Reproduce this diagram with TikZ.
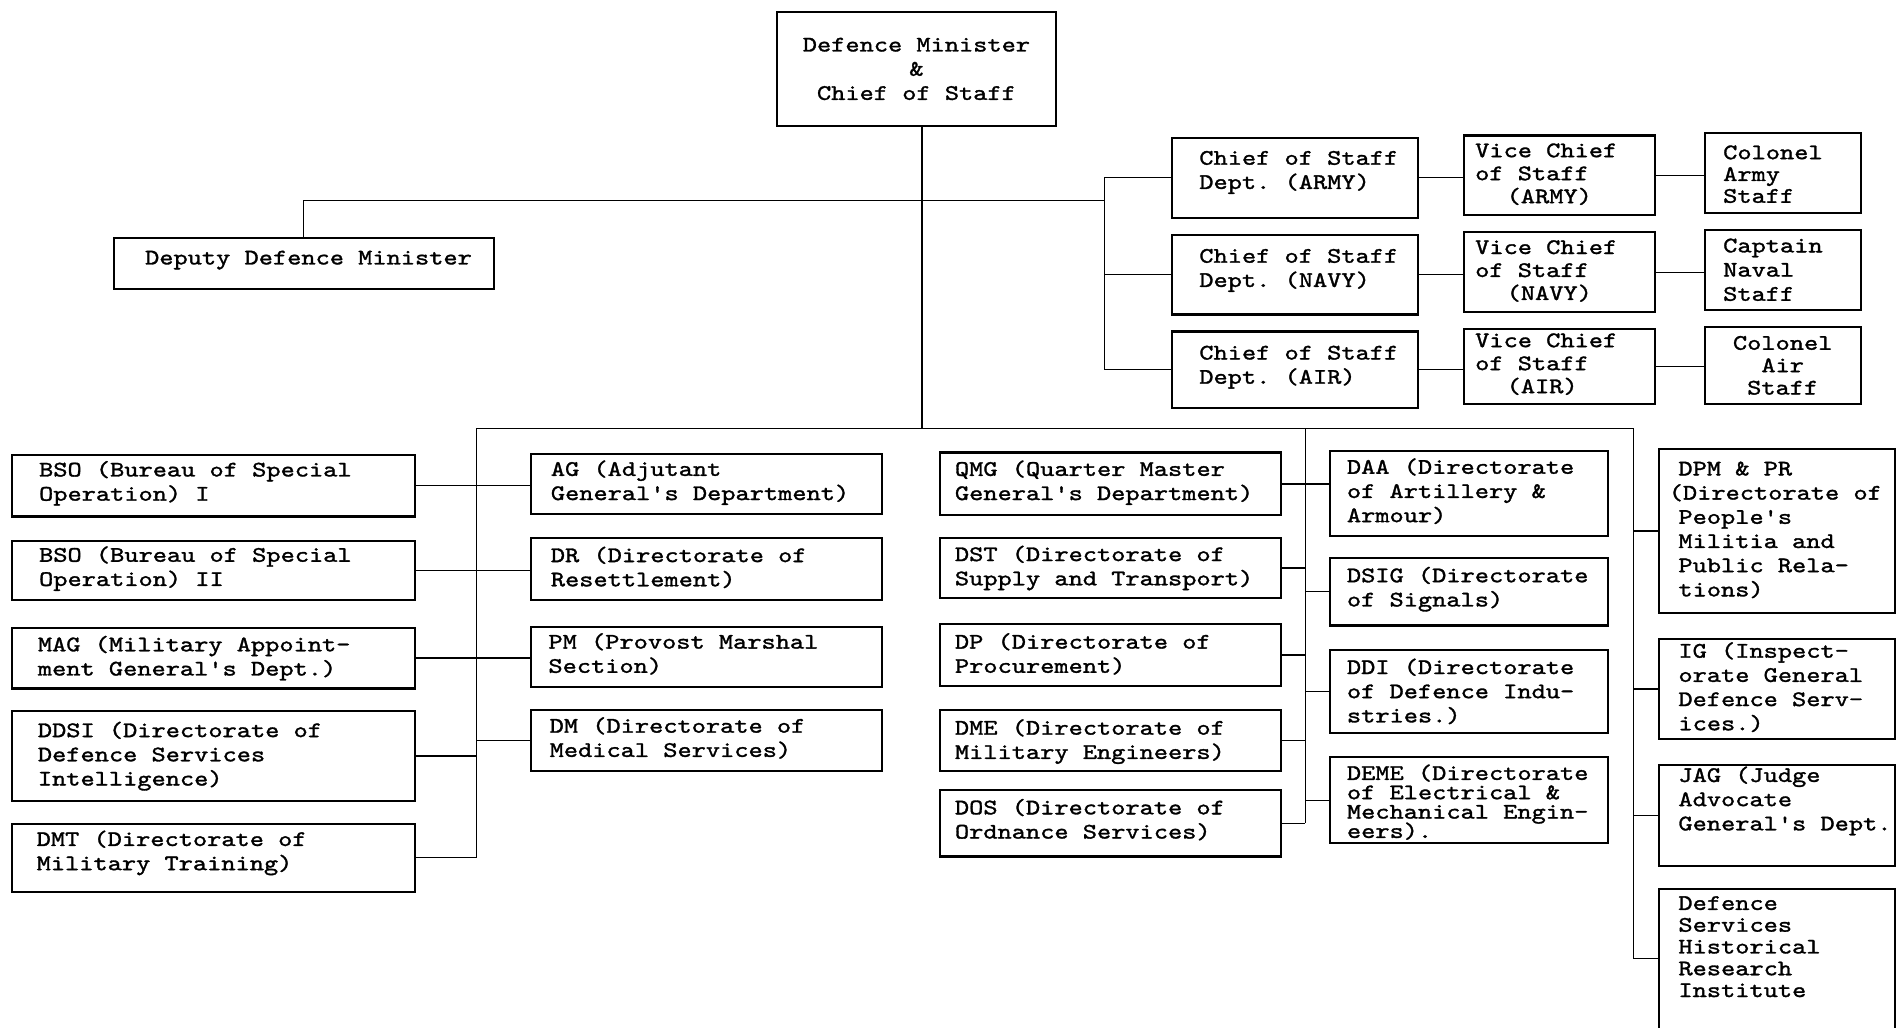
\documentclass[tikz,border=0pt]{standalone}
\usepackage{fontspec}
\setmonofont{lmmono10-regular.otf}[FakeBold=1.4, FakeStretch=1.22]
\lineskiplimit=-100pt
\tikzset{
  box/.style={draw, line width=1.1pt, inner sep=0pt, outer sep=0pt, anchor=north west},
  txt/.style={inner sep=0pt, align=left, anchor=west, font=\ttfamily\fontsize{11}{12}\selectfont},
  txtc/.style={inner sep=0pt, align=center, anchor=center, font=\ttfamily\fontsize{11}{12}\selectfont},
  txtA/.style={txt, font=\ttfamily\fontsize{11}{11.4}\selectfont},
  txtB/.style={txt, font=\ttfamily\fontsize{11}{10.8}\selectfont},
  txtD/.style={txt, font=\ttfamily\fontsize{11}{9.6}\selectfont},
  txtcB/.style={txtc, font=\ttfamily\fontsize{11}{11.1}\selectfont},
  ln/.style={line width=0.65pt},
}
\newcommand\orgbox[5]{%
  \pgfmathsetmacro\obw{(#4-#2)*0.6}%
  \pgfmathsetmacro\obh{(#5-#3)*0.6}%
  \node[box, minimum width=\obw pt, minimum height=\obh pt] (#1) at (#2,#3) {};}
\newcommand\orgtext[5][txt]{%
  \node[#1] (#2-t) at ([xshift=#3*0.6pt, yshift={-(#4)*0.6pt}]#2.west) {#5};}
\begin{document}
\begin{tikzpicture}[x=0.6pt, y=-0.6pt]
\fill[white] (0,0) rectangle (1568,849);
\useasboundingbox (0,0) rectangle (1568,849);

% top
\orgbox{dm}{642}{10}{873}{104}
\node[txtc] (dm-t) at (dm.center) {Defence Minister\\\&\\Chief of Staff};
\orgbox{deputy}{94}{197}{408}{239}
\node[txtc] (deputy-t) at ([xshift=2.4pt, yshift=1.8pt]deputy.center) {Deputy Defence Minister};

% chiefs of staff
\orgbox{cosA}{969}{114}{1172}{180}
\orgtext{cosA}{22}{-4.5}{Chief of Staff\\Dept. (ARMY)}
\orgbox{cosN}{969}{194}{1172}{260}
\orgtext{cosN}{22}{-3.5}{Chief of Staff\\Dept. (NAVY)}
\orgbox{cosR}{969}{274}{1172}{337}
\orgtext{cosR}{22}{-2}{Chief of Staff\\Dept. (AIR)}

\orgbox{vcA}{1210}{112}{1368}{178}
\orgtext[txtA]{vcA}{9}{-1}{Vice Chief\\of Staff\\\hspace*{15.6pt}(ARMY)}
\orgbox{vcN}{1210}{192}{1368}{258}
\orgtext[txtA]{vcN}{9}{-1}{Vice Chief\\of Staff\\\hspace*{15.6pt}(NAVY)}
\orgbox{vcR}{1210}{272}{1368}{334}
\orgtext[txtA]{vcR}{9}{-2}{Vice Chief\\of Staff\\\hspace*{15.6pt}(AIR)}

\orgbox{colA}{1409}{110}{1538}{176}
\orgtext[txtB]{colA}{15}{1}{Colonel\\Army\\Staff}
\orgbox{colN}{1409}{190}{1538}{256}
\orgtext{colN}{15}{0}{Captain\\Naval\\Staff}
\orgbox{colR}{1409}{270}{1538}{334}
\node[txtcB] (colR-t) at (colR.center) {Colonel\\Air\\Staff};

% column 1
\orgbox{bso1}{10}{376}{343}{427}
\orgtext{bso1}{22}{-2}{BSO (Bureau of Special\\Operation) I}
\orgbox{bso2}{10}{447}{343}{496}
\orgtext{bso2}{22}{-1.5}{BSO (Bureau of Special\\Operation) II}
\orgbox{mag}{10}{519}{343}{569}
\orgtext{mag}{21}{0}{MAG (Military Appoint-\\ment General's Dept.)}
\orgbox{ddsi}{10}{588}{343}{662}
\orgtext{ddsi}{21}{0}{DDSI (Directorate of\\Defence Services\\Intelligence)}
\orgbox{dmt}{10}{681}{343}{737}
\orgtext{dmt}{20}{-4}{DMT (Directorate of\\Military Training)}

% column 2
\orgbox{ag}{439}{375}{729}{425}
\orgtext{ag}{16}{-1}{AG (Adjutant\\General's Department)}
\orgbox{dr}{439}{445}{729}{496}
\orgtext{dr}{16}{-1.5}{DR (Directorate of\\Resettlement)}
\orgbox{pm}{439}{518}{729}{568}
\orgtext{pm}{14}{-2.5}{PM (Provost Marshal\\Section)}
\orgbox{dmed}{439}{587}{729}{637}
\orgtext{dmed}{15}{-2}{DM (Directorate of\\Medical Services)}

% column 3
\orgbox{qmg}{777}{374}{1059}{426}
\orgtext{qmg}{12}{-1}{QMG (Quarter Master\\General's Department)}
\orgbox{dst}{777}{445}{1059}{494}
\orgtext{dst}{12}{0}{DST (Directorate of\\Supply and Transport)}
\orgbox{dp}{777}{516}{1059}{567}
\orgtext{dp}{12}{-1}{DP (Directorate of\\Procurement)}
\orgbox{dme}{777}{587}{1059}{637}
\orgtext{dme}{12}{1}{DME (Directorate of\\Military Engineers)}
\orgbox{dos}{777}{653}{1059}{708}
\orgtext{dos}{12}{-3}{DOS (Directorate of\\Ordnance Services)}

% column 4
\orgbox{daa}{1099}{373}{1329}{443}
\orgtext{daa}{14}{-2}{DAA (Directorate\\of Artillery \&\\Armour)}
\orgbox{dsig}{1099}{461}{1329}{517}
\orgtext{dsig}{14}{-2}{DSIG (Directorate\\of Signals)}
\orgbox{ddi}{1099}{537}{1329}{606}
\orgtext{ddi}{14}{0}{DDI (Directorate\\of Defence Indu-\\stries.)}
\orgbox{deme}{1099}{626}{1329}{697}
\orgtext[txtD]{deme}{14}{1.5}{DEME (Directorate\\of Electrical \&\\Mechanical Engin-\\eers).}

% column 5
\orgbox{dpm}{1371}{371}{1566}{507}
\orgtext{dpm}{8}{-1}{\hspace*{4.8pt}DPM \& PR\\(Directorate of\\\hspace*{4.8pt}People's\\\hspace*{4.8pt}Militia and\\\hspace*{4.8pt}Public Rela-\\\hspace*{4.8pt}tions)}
\orgbox{ig}{1371}{528}{1566}{611}
\orgtext{ig}{16}{-1.5}{IG (Inspect-\\orate General\\Defence Serv-\\ices.)}
\orgbox{jag}{1371}{632}{1566}{716}
\orgtext{jag}{16}{-12}{JAG (Judge\\Advocate\\General's Dept.}
\orgbox{dshri}{1371}{735}{1566}{870}
\orgtext[txtB]{dshri}{16}{-20}{Defence\\Services\\Historical\\Research\\Institute}

% connectors, top
\coordinate (brk) at (913,166);
\coordinate (busL) at (394,354);
\coordinate (busM) at (1079,354);
\coordinate (busR) at (1350,354);
\coordinate (dsj) at (1371,792);
\draw[ln] ([xshift=2.7pt]dm.south) -- ([xshift=2.7pt]dm.south |- busL);
\draw[ln] (deputy.north) |- (brk);
\draw[ln] (cosA.west) -- (cosA.west -| brk) -- (cosR.west -| brk) -- (cosR.west);
\draw[ln] (cosN.west) -- (cosN.west -| brk);
\draw[ln] (cosA.east) -- (cosA.east -| vcA.west);
\draw[ln] (cosN.east) -- (cosN.east -| vcN.west);
\draw[ln] (cosR.east) -- (cosR.east -| vcR.west);
\draw[ln] (vcA.east) -- (vcA.east -| colA.west);
\draw[ln] (vcN.east) -- (vcN.east -| colN.west);
\draw[ln] (vcR.east) -- (vcR.east -| colR.west);

% connectors, bottom
\draw[ln] (busL) -- (busR);
\draw[ln] (busL) -- (busL |- dmt.east);
\draw[ln] (busM) -- (busM |- dos.east);
\draw[ln] (busR) -- (busR |- dsj);
\draw[ln] (bso1.east) -- (bso1.east -| ag.west);
\draw[ln] (bso2.east) -- (bso2.east -| dr.west);
\draw[ln] (mag.east) -- (mag.east -| pm.west);
\draw[ln] (ddsi.east) -- (ddsi.east -| busL);
\draw[ln] (dmed.west) -- (dmed.west -| busL);
\draw[ln] (dmt.east) -- (dmt.east -| busL);
\draw[ln] (qmg.east) -- (qmg.east -| daa.west);
\draw[ln] (dst.east) -- (dst.east -| busM);
\draw[ln] (dp.east) -- (dp.east -| busM);
\draw[ln] (dme.east) -- (dme.east -| busM);
\draw[ln] (dos.east) -- (dos.east -| busM);
\draw[ln] (dsig.west) -- (dsig.west -| busM);
\draw[ln] (ddi.west) -- (ddi.west -| busM);
\draw[ln] (deme.west) -- (deme.west -| busM);
\draw[ln] (dpm.west) -- (dpm.west -| busR);
\draw[ln] (ig.west) -- (ig.west -| busR);
\draw[ln] (jag.west) -- (jag.west -| busR);
\draw[ln] (dsj) -- (dsj -| busR);
\end{tikzpicture}
\end{document}
